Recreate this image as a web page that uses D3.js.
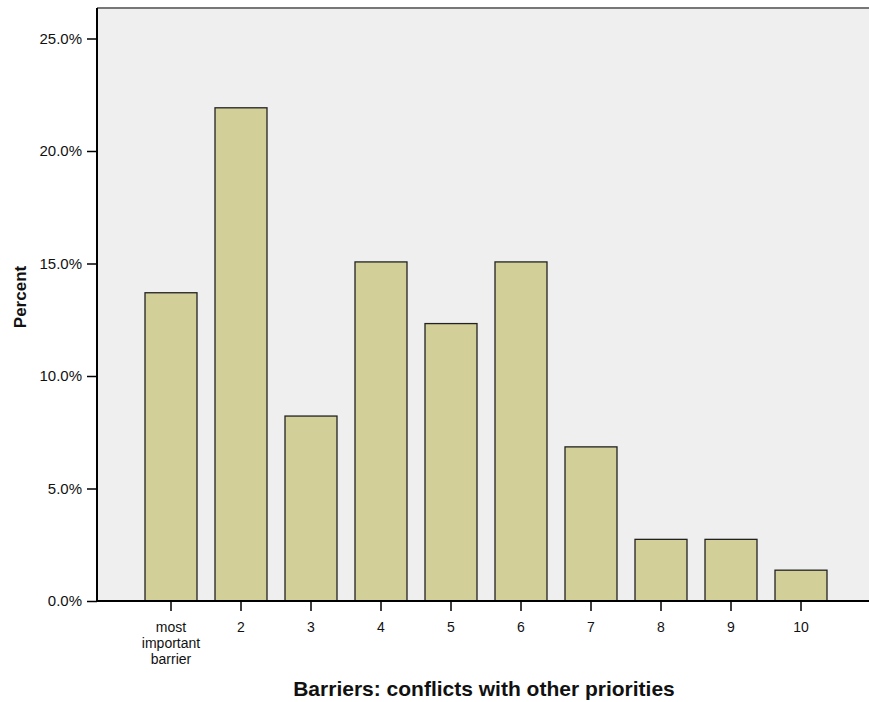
<!DOCTYPE html>
<html><head><meta charset="utf-8">
<script src="https://cdn.jsdelivr.net/npm/d3@7/dist/d3.min.js"></script>
<style>body{margin:0;background:#fff;}svg{display:block;font-family:"Liberation Sans",Arial,sans-serif;}</style>
</head><body><svg id="c" width="869" height="702"></svg>
<script>
const categories = ["most important barrier","2","3","4","5","6","7","8","9","10"];
const percents = [13.70, 21.92, 8.22, 15.07, 12.33, 15.07, 6.85, 2.74, 2.74, 1.37];
const yTicks = [0, 5, 10, 15, 20, 25];

const svg = d3.select("#c");
const pLeft = 97, pRight = 869, pTop = 8, pBottom = 601;
const FONT = '"Liberation Sans",Arial,sans-serif';

svg.append("rect").attr("x", pLeft).attr("y", pTop).attr("width", pRight-pLeft).attr("height", pBottom-pTop).attr("fill", "#efefef");
svg.append("line").attr("x1", pLeft).attr("x2", pRight).attr("y1", pTop).attr("y2", pTop).attr("stroke", "#777").attr("stroke-width", 2);

const y = d3.scaleLinear().domain([0, 25]).range([pBottom, 38.5]);
const x = d3.scaleBand().domain(categories).range([136, 836]).paddingInner(18/70).paddingOuter(9/70);

svg.append("g").selectAll("rect").data(percents).join("rect")
  .attr("x", (d,i)=>x(categories[i]))
  .attr("y", d=>y(d))
  .attr("width", x.bandwidth())
  .attr("height", d=>pBottom - y(d))
  .attr("fill", "#d3cf99").attr("stroke", "#222").attr("stroke-width", 1.3);

// y axis
const ya = svg.append("g").attr("transform", `translate(${pLeft},0)`)
  .call(d3.axisLeft(y).tickValues(yTicks).tickFormat(d=>d.toFixed(1)+"%").tickSize(10).tickSizeOuter(0));
ya.select(".domain").attr("stroke", "#000").attr("stroke-width", 2).attr("d", `M0,${pTop}V${pBottom}`);
ya.selectAll(".tick line").attr("stroke", "#000").attr("stroke-width", 1.5);
ya.selectAll(".tick text").attr("font-size", 15).attr("fill", "#111").attr("x", -15).attr("font-family", FONT);

// x axis
const xa = svg.append("g").attr("transform", `translate(0,${pBottom})`)
  .call(d3.axisBottom(x).tickSize(10).tickSizeOuter(0));
xa.select(".domain").attr("stroke", "#000").attr("stroke-width", 2).attr("d", `M${pLeft},0H${pRight}`);
xa.selectAll(".tick line").attr("stroke", "#000").attr("stroke-width", 1.5);
xa.selectAll(".tick text").attr("font-size", 14).attr("fill", "#111").attr("font-family", FONT)
  .attr("y", 31).attr("dy", null)
  .each(function(d){
    const words = d.split(" ");
    if (words.length > 1) {
      const t = d3.select(this); t.text(null);
      words.forEach((w,i)=>t.append("tspan").attr("x", 0).attr("dy", i===0 ? 0 : 16).text(w));
    }
  });

svg.append("text").attr("x", 484).attr("y", 696).attr("text-anchor", "middle")
  .attr("font-size", 21).attr("font-weight", "bold").attr("fill", "#111").attr("font-family", FONT)
  .text("Barriers: conflicts with other priorities");
svg.append("text").attr("transform", "translate(26,297) rotate(-90)").attr("text-anchor", "middle")
  .attr("font-size", 17).attr("font-weight", "bold").attr("fill", "#111").attr("font-family", FONT)
  .text("Percent");
</script></body></html>
